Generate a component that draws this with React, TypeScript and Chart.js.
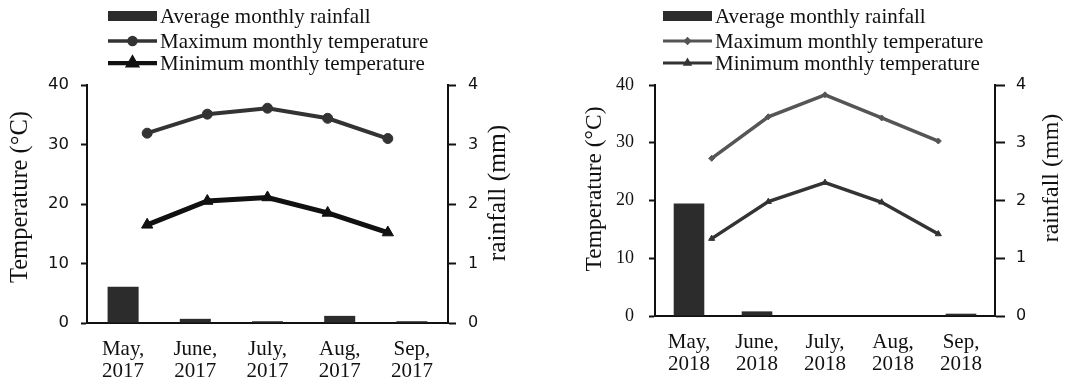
import React, { useEffect, useRef } from 'react';
import { Chart, registerables } from 'chart.js';
import { drawPoint } from 'chart.js/helpers';
Chart.register(...registerables);

// ---------- data ----------
const months = ['May,', 'June,', 'July,', 'Aug,', 'Sep,'];
const year2017 = '2017';
const year2018 = '2018';
const rain2017 = [0.61, 0.07, 0.03, 0.12, 0.03];
const maxT2017 = [31.9, 35.1, 36.1, 34.4, 31.0];
const minT2017 = [16.5, 20.5, 21.1, 18.5, 15.2];
const rain2018 = [1.95, 0.08, 0, 0, 0.04];
const maxT2018 = [27.3, 34.5, 38.3, 34.3, 30.3];
const minT2018 = [13.4, 19.8, 23.1, 19.7, 14.2];
const seriesNames = ['Average monthly rainfall', 'Maximum monthly temperature', 'Minimum monthly temperature'];
const tempTitle = 'Temperature (°C)';
const rainTitle = 'rainfall (mm)';

const SERIF = '"Liberation Serif", "Times New Roman", serif';
const SANS = '"DejaVu Sans", Verdana, sans-serif';
const H = 385;

const decorPlugin = {
  id: 'decor',
  afterDraw(chart: any, _args: any, opts: any) {
    const ctx = chart.ctx as CanvasRenderingContext2D;
    ctx.save();
    const L = opts.legend;
    ctx.font = `${L.size}px ${SERIF}`;
    ctx.textBaseline = 'middle';
    ctx.textAlign = 'left';
    chart.data.datasets.forEach((ds: any, i: number) => {
      const y = L.rows[i];
      if (ds.type === 'bar') {
        ctx.fillStyle = ds.backgroundColor;
        ctx.fillRect(L.x, y - 5, L.w, 10);
      } else {
        ctx.strokeStyle = ds.borderColor;
        ctx.lineWidth = ds.borderWidth * 0.85;
        ctx.beginPath();
        ctx.moveTo(L.x, y);
        ctx.lineTo(L.x + L.w, y);
        ctx.stroke();
        ctx.fillStyle = ds.pointBackgroundColor;
        ctx.strokeStyle = ds.pointBorderColor;
        drawPoint(ctx, { pointStyle: ds.pointStyle, radius: ds.pointRadius * 0.7, rotation: 0, borderWidth: 1 } as any, L.x + L.w / 2, y);
      }
      ctx.fillStyle = '#111';
      ctx.fillText(ds.label, L.x + L.w + 3, y + 1);
    });
    // axis titles
    ctx.fillStyle = '#111';
    ctx.textAlign = 'center';
    opts.titles.forEach((t: any) => {
      ctx.save();
      ctx.font = `${t.size}px ${SERIF}`;
      ctx.translate(t.x, t.y);
      ctx.rotate(-Math.PI / 2);
      ctx.fillText(t.text, 0, 0);
      ctx.restore();
    });
    ctx.restore();
  },
};

function makeConfig(p: any) {
  const idx = (arr: number[]) => arr.map((v, i) => ({ x: i, y: v }));
  return {
    type: 'bar',
    data: {
      labels: months.map((m) => [m, p.year]),
      datasets: [
        {
          type: 'bar', label: seriesNames[0], data: p.rain, yAxisID: 'yr', xAxisID: 'x', grouped: false,
          backgroundColor: '#2c2c2c', barPercentage: p.barPct, categoryPercentage: 1, order: 3,
        },
        {
          type: 'line', label: seriesNames[1], data: idx(p.maxT), yAxisID: 'y', xAxisID: 'xl',
          borderColor: p.maxColor, borderWidth: p.maxWidth, pointStyle: p.maxPoint, pointRadius: p.maxRadius,
          pointBackgroundColor: p.maxColor, pointBorderColor: p.maxColor, pointBorderWidth: 1, order: 2,
        },
        {
          type: 'line', label: seriesNames[2], data: idx(p.minT), yAxisID: 'y', xAxisID: 'xl',
          borderColor: p.minColor, borderWidth: p.minWidth, pointStyle: p.minPoint, pointRadius: p.minRadius,
          pointBackgroundColor: p.minColor, pointBorderColor: p.minColor, pointBorderWidth: 1, order: 1,
        },
      ],
    },
    options: {
      responsive: false,
      animation: false,
      events: [],
      layout: { padding: { top: 85, left: 0, right: 0, bottom: 0 } },
      plugins: {
        legend: { display: false },
        tooltip: { enabled: false },
        decor: {
          legend: { x: p.legX, w: 49, rows: [16, 41, 63], size: 21 },
          titles: [
            { text: tempTitle, x: p.tTitle[0], y: p.tTitle[1], size: p.tTitle[2] },
            { text: rainTitle, x: p.rTitle[0], y: p.rTitle[1], size: p.rTitle[2] },
          ],
        },
      },
      scales: {
        x: {
          type: 'category', offset: true,
          grid: { display: false, drawTicks: false },
          border: { display: true, color: '#111', width: 2 },
          ticks: { font: { family: SERIF, size: 21, lineHeight: 1.05 }, color: '#111', padding: 15, maxRotation: 0, autoSkip: false },
          afterFit: (s: any) => { s.height = p.xH; },
        },
        xl: { type: 'linear', min: -1, max: 5, offset: false, display: false, grid: { offset: false } },
        y: {
          position: 'left', min: 0, max: 40,
          ticks: { stepSize: 10, font: { family: p.leftFont, size: p.leftSize }, color: '#111', padding: p.leftPad },
          grid: { display: true, drawOnChartArea: false, drawTicks: true, tickLength: 6, tickColor: '#111', tickWidth: 2 },
          border: { display: true, color: '#111', width: 2 },
          afterFit: (s: any) => { s.width = p.yW; },
        },
        yr: {
          position: 'right', min: 0, max: 4,
          ticks: { stepSize: 1, font: { family: SANS, size: 16 }, color: '#111', padding: p.rightPad },
          grid: { display: true, drawOnChartArea: false, drawTicks: true, tickLength: p.rightTick, tickColor: '#111', tickWidth: 2 },
          border: { display: true, color: '#111', width: 2 },
          afterFit: (s: any) => { s.width = p.yrW; },
        },
      },
    },
    plugins: [decorPlugin],
  };
}

const chart1 = {
  year: year2017, rain: rain2017, maxT: maxT2017, minT: minT2017, barPct: 0.43,
  maxColor: '#333', maxWidth: 4, maxPoint: 'circle', maxRadius: 5,
  minColor: '#111', minWidth: 5, minPoint: 'triangle', minRadius: 6.5,
  legX: 108, tTitle: [21, 197, 24.5], rTitle: [498, 193, 25.5],
  xH: 62, yW: 87, yrW: 82, leftFont: SANS, leftSize: 16.5, leftPad: 12, rightPad: 12, rightTick: 8,
};
const chart2 = {
  year: year2018, rain: rain2018, maxT: maxT2018, minT: minT2018, barPct: 0.45,
  maxColor: '#555', maxWidth: 3.5, maxPoint: 'rectRot', maxRadius: 3,
  minColor: '#333', minWidth: 3.5, minPoint: 'triangle', minRadius: 3.5,
  legX: 133, tTitle: [65, 189, 23.5], rTitle: [522, 178, 24],
  xH: 69, yW: 125, yrW: 70, leftFont: SERIF, leftSize: 18, leftPad: 15, rightPad: 11, rightTick: 10,
};

function ComboChart({ params, left, width }: { params: any; left: number; width: number }) {
  const ref = useRef<HTMLCanvasElement>(null);
  useEffect(() => {
    const chart = new Chart(ref.current as HTMLCanvasElement, makeConfig(params) as any);
    return () => chart.destroy();
  }, [params]);
  return (
    <canvas
      ref={ref}
      width={width}
      height={H}
      style={{ position: 'absolute', left, top: 0, width, height: H }}
    />
  );
}

export default function App() {
  return (
    <div style={{ position: 'absolute', left: 0, top: 0, width: 1065, height: H, background: '#fff' }}>
      <ComboChart params={chart1} left={0} width={530} />
      <ComboChart params={chart2} left={530} width={535} />
    </div>
  );
}
